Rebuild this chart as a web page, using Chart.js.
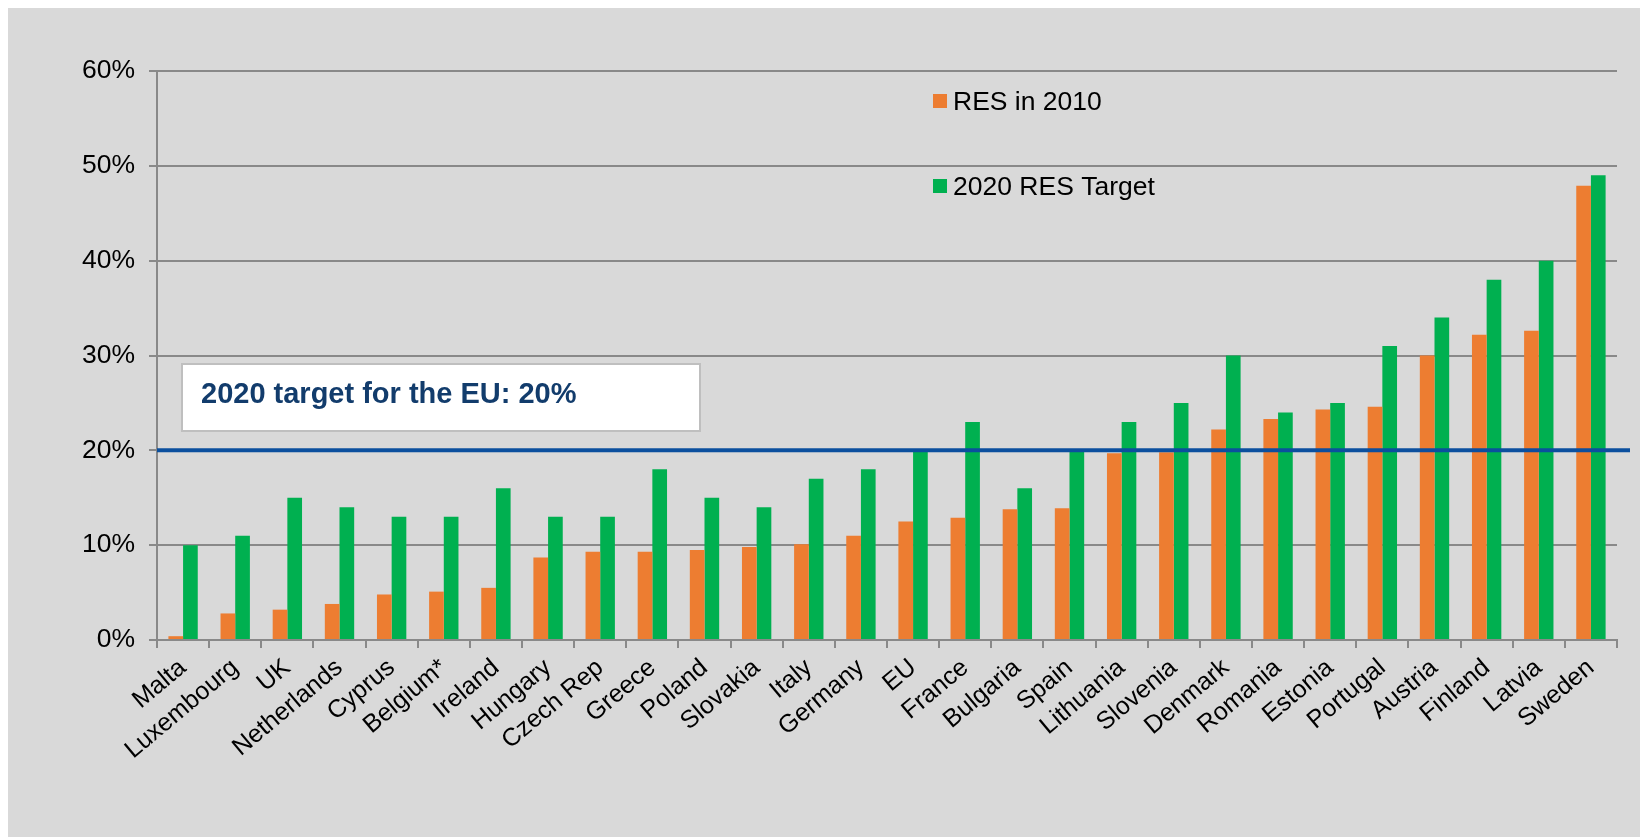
<!DOCTYPE html>
<html>
<head>
<meta charset="utf-8">
<script src="https://cdn.jsdelivr.net/npm/chart.js@4.4.1/dist/chart.umd.min.js"></script>
<style>
  html, body { margin: 0; padding: 0; background: #fff; }
  #wrap { position: absolute; left: 0; top: 0; width: 1640px; height: 837px; }
</style>
</head>
<body>
<div id="wrap"><canvas id="myChart"></canvas></div>
<script>
// countries, sorted by 2010 share
let countries = ["Malta", "Luxembourg", "UK", "Netherlands", "Cyprus", "Belgium*", "Ireland", "Hungary", "Czech Rep",
    "Greece", "Poland", "Slovakia", "Italy", "Germany", "EU", "France", "Bulgaria", "Spain", "Lithuania", "Slovenia",
    "Denmark", "Romania", "Estonia", "Portugal", "Austria", "Finland", "Latvia", "Sweden"]
let res2010 = [0.4, 2.8, 3.2, 3.8, 4.8, 5.1, 5.5, 8.7, 9.3, 9.3, 9.5, 9.8, 10.1, 11.0, 12.5, 12.9, 13.8, 13.9, 19.7, 19.8,
    22.2, 23.3, 24.3, 24.6, 30.0, 32.2, 32.6, 47.9]
let target2020 = [10, 11, 15, 14, 13, 13, 16, 13, 13, 18, 15, 14, 17, 18, 20, 23, 16, 20, 23, 25, 30, 24, 25, 31, 34, 38, 40, 49]
let euTarget = 20
let euTargetText = "2020 target for the EU: 20%"
let yTicks = [0, 10, 20, 30, 40, 50, 60]

const FONT = "'Liberation Sans', Arial, sans-serif"
const GRID = '#898989'

Chart.defaults.font.family = FONT
Chart.defaults.color = '#000'

// grey panel, target line, text box and legend
const extras = {
    id: 'extras',
    beforeDraw(chart) {
        const c = chart.ctx
        c.save()
        c.fillStyle = '#fff'
        c.fillRect(0, 0, chart.width, chart.height)
        c.fillStyle = '#d9d9d9'
        c.fillRect(8, 8, chart.width - 8, chart.height - 8)
        c.restore()
    },
    afterDatasetsDraw(chart) {
        const c = chart.ctx
        const a = chart.chartArea
        const y = chart.scales.y.getPixelForValue(euTarget)
        c.save()
        // 20% line
        c.strokeStyle = '#0b4f9e'
        c.lineWidth = 4
        c.beginPath()
        c.moveTo(a.left, y)
        c.lineTo(a.right + 13, y)
        c.stroke()

        // text box
        c.fillStyle = '#fff'
        c.fillRect(a.left + 25, a.top + 293, 518, 67)
        c.strokeStyle = '#bfbfbf'
        c.lineWidth = 2
        c.strokeRect(a.left + 25, a.top + 293, 518, 67)
        c.fillStyle = '#123c6c'
        c.font = 'bold 29px ' + FONT
        c.textBaseline = 'alphabetic'
        c.fillText(euTargetText, a.left + 44, a.top + 332)

        // legend
        c.font = '26.5px ' + FONT
        chart.data.datasets.forEach((ds, i) => {
            const ly = a.top + 23 + i * 85
            c.fillStyle = ds.backgroundColor
            c.fillRect(a.left + 776, ly, 14, 14)
            c.fillStyle = '#000'
            c.fillText(ds.label, a.left + 796, ly + 16)
        })
        c.restore()
    }
}

var ctx = document.getElementById('myChart')

var myChart = new Chart(ctx, {
    type: 'bar',
    data: {
        labels: countries,
        datasets: [{
            label: 'RES in 2010',
            data: res2010,
            backgroundColor: '#ed7d31',
            categoryPercentage: 0.563,
            barPercentage: 1
        }, {
            label: '2020 RES Target',
            data: target2020,
            backgroundColor: '#00b050',
            categoryPercentage: 0.563,
            barPercentage: 1
        }]
    },
    options: {
        responsive: true,
        maintainAspectRatio: false,
        animation: false,
        layout: { padding: { left: 0, top: 71, right: 23, bottom: 0 } },
        plugins: {
            legend: { display: false },
            tooltip: { enabled: false }
        },
        scales: {
            x: {
                grid: { display: true, drawOnChartArea: false, color: GRID, lineWidth: 2, tickLength: 8 },
                border: { color: GRID, width: 2 },
                ticks: {
                    autoSkip: false, minRotation: 40, maxRotation: 40, padding: 5,
                    font: { size: 25 }, color: '#000'
                },
                afterFit(scale) { scale.height = 197 }
            },
            y: {
                min: 0,
                max: 60,
                afterBuildTicks(scale) { scale.ticks = yTicks.map(v => ({ value: v })) },
                grid: { color: GRID, lineWidth: 2, tickLength: 8 },
                border: { color: GRID, width: 2 },
                ticks: {
                    padding: 14,
                    font: { size: 26.5 }, color: '#000',
                    callback: v => v + '%'
                },
                afterFit(scale) { scale.width = 157 }
            }
        }
    },
    plugins: [extras]
})
</script>
</body>
</html>
